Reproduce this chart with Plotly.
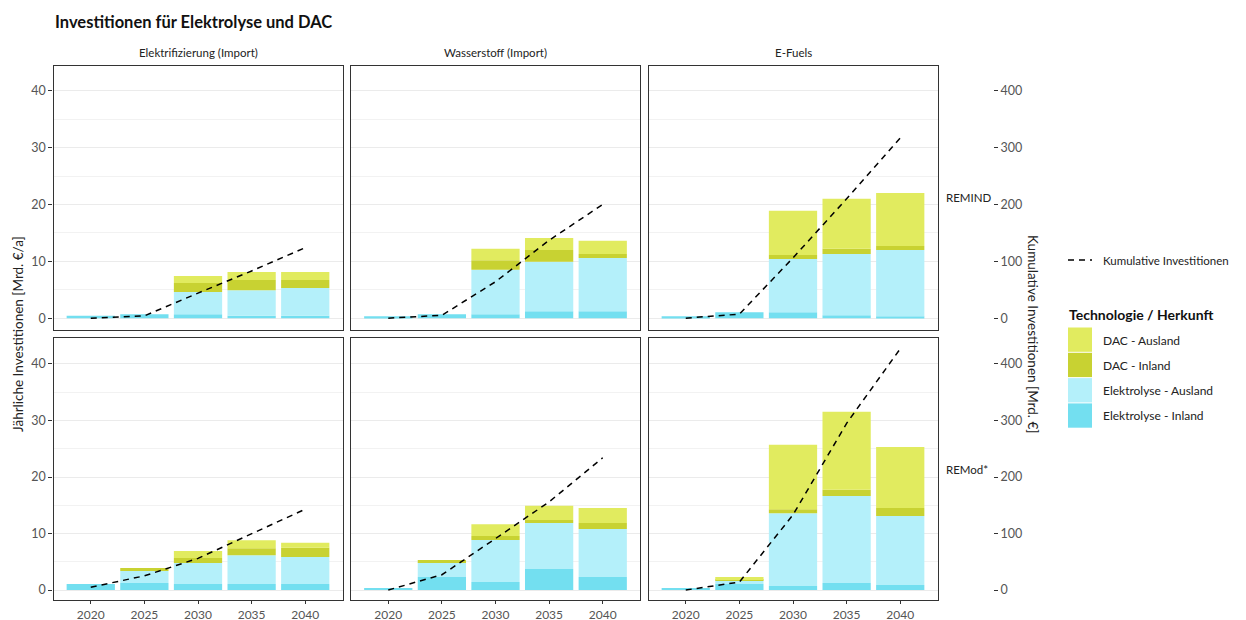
import plotly.graph_objects as go

# ---------------- data ----------------
years = [2020, 2025, 2030, 2035, 2040]
szenarien = ["Elektrifizierung (Import)", "Wasserstoff (Import)", "E-Fuels"]
modelle = ["REMIND", "REMod*"]
technologien = ["Elektrolyse - Inland", "Elektrolyse - Ausland", "DAC - Inland", "DAC - Ausland"]
farben = ["#73DFF0", "#B4F0FA", "#C8D232", "#E1EB5F"]
legend_order = ["DAC - Ausland", "DAC - Inland", "Elektrolyse - Ausland", "Elektrolyse - Inland"]

# Annual investments [Mrd. EUR/a]; one list per scenario (Elektrifizierung, Wasserstoff, E-Fuels)
remind_elektrolyse_inland = [[0.4, 0.7, 0.7, 0.4, 0.4], [0.35, 0.7, 0.7, 1.2, 1.2], [0.35, 1.05, 1.05, 0.5, 0.35]]
remind_elektrolyse_ausland = [[0, 0, 3.9, 4.5, 4.9], [0, 0, 7.8, 8.7, 9.4], [0, 0, 9.35, 10.8, 11.65]]
remind_dac_inland = [[0, 0, 1.6, 1.8, 1.4], [0, 0, 1.7, 2.1, 0.7], [0, 0, 0.7, 0.9, 0.7]]
remind_dac_ausland = [[0, 0, 1.2, 1.4, 1.4], [0, 0, 2.0, 2.1, 2.3], [0, 0, 7.8, 8.8, 9.3]]

remod_elektrolyse_inland = [[1.06, 1.25, 1.06, 1.06, 1.06], [0.35, 2.3, 1.4, 3.7, 2.3], [0.35, 1.06, 0.7, 1.24, 0.9]]
remod_elektrolyse_ausland = [[0, 2.1, 3.7, 5.1, 4.8], [0, 2.65, 7.45, 8.15, 8.5], [0, 0.7, 12.9, 15.4, 12.2]]
remod_dac_inland = [[0, 0.55, 0.9, 1.25, 1.6], [0, 0.35, 0.7, 0.55, 1.05], [0, 0.18, 0.7, 1.1, 1.4]]
remod_dac_ausland = [[0, 0, 1.25, 1.4, 0.9], [0, 0, 2.1, 2.5, 2.65], [0, 0.35, 11.4, 13.8, 10.8]]

# Cumulative investments [Mrd. EUR]
remind_kumulativ = [[0, 4, 44, 83, 124], [0, 5, 64, 137, 200], [0, 7, 106, 210, 317]]
remod_kumulativ = [[5, 25, 56, 100, 143], [0, 27, 91, 156, 234], [0, 14, 133, 295, 427]]

y_ticks = [0, 10, 20, 30, 40]
y_minor = [5, 15, 25, 35]
y2_ticks = [0, 100, 200, 300, 400]

# ---------------- layout helpers ----------------
W, H = 1246, 620
FONT = "Lato"
def px(x):
    return x / W
def py(y):
    return 1 - y / H

col_px = [(53.5, 342.5), (351, 640), (648.5, 937.5)]
row_px = [(65.5, 329.5), (338, 600)]
y_ranges = [(-2.0, 44.45), (-1.77, 44.6)]
x_range = [2016.525, 2043.475]

model_data = [
    [remind_elektrolyse_inland, remind_elektrolyse_ausland, remind_dac_inland, remind_dac_ausland, remind_kumulativ],
    [remod_elektrolyse_inland, remod_elektrolyse_ausland, remod_dac_inland, remod_dac_ausland, remod_kumulativ],
]

fig = go.Figure()
layout = dict(
    width=W, height=H, margin=dict(l=0, r=0, t=0, b=0, pad=0, autoexpand=False),
    paper_bgcolor="white", plot_bgcolor="white",
    barmode="relative", showlegend=False,
    font=dict(family=FONT, color="#222"),
)

tickfont = dict(family=FONT, size=12.5, color="#555")
xtickfont = dict(family=FONT, size=12, color="#555")
grid = "#EBEBEB"

for r in range(2):
    for c in range(3):
        k = r * 3 + c + 1
        k2 = 6 + k
        series = model_data[r]
        for t in range(4):
            fig.add_trace(go.Bar(
                x=years, y=series[t][c], width=4.5, name=technologien[t],
                marker=dict(color=farben[t], line=dict(width=0)),
                xaxis=f"x{k}", yaxis=f"y{k}",
            ))
        fig.add_trace(go.Scatter(
            x=years, y=series[4][c], mode="lines", name="Kumulative Investitionen",
            line=dict(color="black", width=1.5, dash="6px,5px"),
            xaxis=f"x{k}", yaxis=f"y{k2}",
        ))
        x0, x1 = col_px[c]
        y0, y1 = row_px[r]
        layout[f"xaxis{k}"] = dict(
            domain=[px(x0), px(x1)], anchor=f"y{k}", range=x_range, automargin=False,
            showgrid=False, zeroline=False, showline=True, mirror=True,
            linecolor="#333", linewidth=1.3,
            tickvals=years, ticks="outside" if r == 1 else "", ticklen=3, tickcolor="#333",
            showticklabels=(r == 1), tickfont=xtickfont, fixedrange=True,
        )
        layout[f"yaxis{k}"] = dict(
            domain=[py(y1), py(y0)], anchor=f"x{k}", range=list(y_ranges[r]), automargin=False,
            tickvals=y_ticks, showgrid=True, gridcolor=grid, gridwidth=1,
            minor=dict(tickvals=y_minor, showgrid=True, gridcolor="#F2F2F2", gridwidth=1),
            zeroline=False, showline=True, mirror=True, linecolor="#333", linewidth=1.3,
            ticks="outside" if c == 0 else "", ticklen=4, tickcolor="#333",
            showticklabels=(c == 0), tickfont=tickfont, fixedrange=True,
        )
        sec_range = [v * 10 for v in y_ranges[r]]
        if c < 2:
            layout[f"yaxis{k2}"] = dict(overlaying=f"y{k}", anchor=f"x{k}", range=sec_range,
                                        visible=False, showgrid=False, zeroline=False)
        else:
            layout[f"yaxis{k2}"] = dict(
                overlaying=f"y{k}", anchor="free", position=px(993), side="right", automargin=False,
                range=sec_range, tickvals=y2_ticks, ticks="outside", ticklen=4, tickcolor="#333",
                showgrid=False, zeroline=False, showline=False, tickfont=tickfont, fixedrange=True,
            )

annotations = []
shapes = []
# title
annotations.append(dict(text="<b>Investitionen für Elektrolyse und DAC</b>", x=px(53), y=py(22),
                        xref="paper", yref="paper", xanchor="left", yanchor="middle", showarrow=False,
                        font=dict(family=FONT, size=16.5, color="#111")))
# column strips
for c, name in enumerate(szenarien):
    x0, x1 = col_px[c]
    annotations.append(dict(text=name, x=px((x0 + x1) / 2), y=py(53), xref="paper", yref="paper",
                            xanchor="center", yanchor="middle", showarrow=False,
                            font=dict(family=FONT, size=11.5, color="#222")))
# row strips
for r, name in enumerate(modelle):
    y0, y1 = row_px[r]
    annotations.append(dict(text=name, x=px(944), y=py((y0 + y1) / 2), xref="paper", yref="paper",
                            xanchor="left", yanchor="middle", showarrow=False,
                            font=dict(family=FONT, size=11.5, color="#222")))
# axis titles
annotations.append(dict(text="Jährliche Investitionen [Mrd. €/a]", x=px(18), y=py(334), xref="paper",
                        yref="paper", xanchor="center", yanchor="middle", textangle=-90, showarrow=False,
                        font=dict(family=FONT, size=13.5, color="#222")))
annotations.append(dict(text="Kumulative Investitionen [Mrd. €]", x=px(1033), y=py(334), xref="paper",
                        yref="paper", xanchor="center", yanchor="middle", textangle=90, showarrow=False,
                        font=dict(family=FONT, size=13.5, color="#222")))
# legend: line
shapes.append(dict(type="line", xref="paper", yref="paper", x0=px(1068), x1=px(1092), y0=py(260), y1=py(260),
                   line=dict(color="black", width=1.5, dash="6px,5px")))
annotations.append(dict(text="Kumulative Investitionen", x=px(1101), y=py(260), xref="paper", yref="paper",
                        xanchor="left", yanchor="middle", showarrow=False,
                        font=dict(family=FONT, size=11.5, color="#222")))
# legend: technologies
annotations.append(dict(text="<b>Technologie / Herkunft</b>", x=px(1067), y=py(314), xref="paper", yref="paper",
                        xanchor="left", yanchor="middle", showarrow=False,
                        font=dict(family=FONT, size=14, color="#111")))
for i, name in enumerate(legend_order):
    col = farben[technologien.index(name)]
    top = 327.5 + i * 25.3
    shapes.append(dict(type="rect", xref="paper", yref="paper", x0=px(1068), x1=px(1092),
                       y0=py(top + 24.3), y1=py(top), fillcolor=col, line=dict(width=0)))
    annotations.append(dict(text=name, x=px(1101), y=py(top + 12.5), xref="paper", yref="paper",
                            xanchor="left", yanchor="middle", showarrow=False,
                            font=dict(family=FONT, size=12, color="#222")))

layout["annotations"] = annotations
layout["shapes"] = shapes
fig.update_layout(**layout)

fix_page = (
    "var s=document.createElement('style');"
    "s.textContent='html,body{margin:0;padding:0;width:1246px;height:620px;overflow:hidden;}'"
    "+'body>div{height:620px;overflow:hidden;line-height:0;}';"
    "document.head.appendChild(s);"
)
fig.write_html("out.html", config={"displayModeBar": False}, post_script=fix_page)
